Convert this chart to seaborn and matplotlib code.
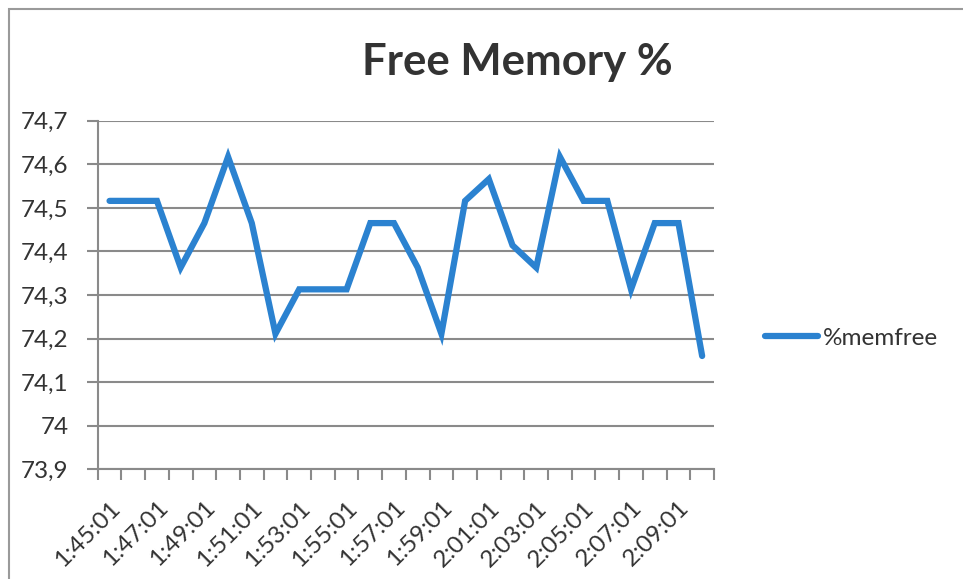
import matplotlib
matplotlib.use("Agg")
import matplotlib.pyplot as plt
import matplotlib.patches as mpatches
import numpy as np
import pandas as pd
import seaborn as sns

# one sample per minute, 1:45:01 .. 2:10:01
times = [
    "1:45:01", "1:46:01", "1:47:01", "1:48:01", "1:49:01", "1:50:01", "1:51:01",
    "1:52:01", "1:53:01", "1:54:01", "1:55:01", "1:56:01", "1:57:01", "1:58:01",
    "1:59:01", "2:00:01", "2:01:01", "2:02:01", "2:03:01", "2:04:01", "2:05:01",
    "2:06:01", "2:07:01", "2:08:01", "2:09:01", "2:10:01",
]
memfree = [
    74.516, 74.516, 74.516, 74.363, 74.465, 74.617, 74.465, 74.211, 74.313,
    74.313, 74.313, 74.465, 74.465, 74.363, 74.211, 74.516, 74.566, 74.414,
    74.363, 74.617, 74.516, 74.516, 74.313, 74.465, 74.465, 74.160,
]
y_ticks = [73.9, 74.0, 74.1, 74.2, 74.3, 74.4, 74.5, 74.6, 74.7]
series_name = "%memfree"
title = "Free Memory %"

LINE = "#2b82d0"
GRID = "#8a8a8a"
TEXT = "#333333"
FS = 17.5


def fmt_comma(v):
    s = f"{v:.1f}".replace(".", ",")
    return s[:-2] if s.endswith(",0") else s


def main():
    sns.set_theme(style="white")
    plt.rcParams["font.family"] = ["Lato", "DejaVu Sans"]

    df = pd.DataFrame({"time": times, "value": memfree})
    df["idx"] = np.arange(len(df))

    fig = plt.figure(figsize=(9.63, 5.79), dpi=100)
    ax = fig.add_axes([97.7 / 963, 1 - 469.3 / 579, (714 - 97.7) / 963, (469.3 - 120.7) / 579])

    sns.lineplot(data=df, x="idx", y="value", ax=ax, color=LINE, linewidth=4.5,
                 label=series_name, legend=False, sort=False)
    for ln in ax.lines:
        ln.set_solid_capstyle("round")
        ln.set_solid_joinstyle("miter")

    n = len(times)
    ax.set_xlim(-0.5, n - 0.5)
    ax.set_ylim(y_ticks[0], y_ticks[-1])

    # y axis: gridlines with outward ticks
    ax.set_yticks(y_ticks)
    ax.set_yticklabels([fmt_comma(v) for v in y_ticks])
    ax.yaxis.grid(True, color=GRID, linewidth=1.5)
    ax.set_axisbelow(True)
    ax.tick_params(axis="y", which="major", left=True, length=8, width=1.5, color=GRID,
                   direction="out", pad=13, labelsize=FS, labelcolor=TEXT)

    # x axis: tick marks on category boundaries, labels every other category
    ax.set_xticks(np.arange(-0.5, n, 1.0))
    ax.set_xticklabels([])
    ax.tick_params(axis="x", which="major", bottom=True, length=8, width=1.5, color=GRID,
                   direction="out")
    lab_pos = df["idx"].values[::2]
    ax.set_xticks(lab_pos, minor=True)
    ax.set_xticklabels([times[i] for i in lab_pos], minor=True, rotation=45,
                       ha="right", va="top", rotation_mode="anchor")
    ax.tick_params(axis="x", which="minor", bottom=True, length=0, pad=20,
                   labelsize=FS, labelcolor=TEXT)

    for side in ["top", "right"]:
        ax.spines[side].set_visible(False)
    for side in ["left", "bottom"]:
        ax.spines[side].set_color(GRID)
        ax.spines[side].set_linewidth(1.5)
    ax.set_xlabel("")
    ax.set_ylabel("")

    fig.text(517 / 963, 1 - 62 / 579, title, ha="center", va="center",
             fontsize=31.5, fontweight="bold", color="#333333")

    handles, labels = ax.get_legend_handles_labels()
    fig.legend(handles, labels, loc="center left", bbox_to_anchor=(765 / 963, 1 - 338 / 579),
               frameon=False, borderpad=0, borderaxespad=0, handlelength=2.2,
               handletextpad=0.2, fontsize=FS, labelcolor=TEXT)

    fig.patches.append(mpatches.Rectangle((9 / 963, -0.1), 2, 1.1 - 9 / 579, transform=fig.transFigure,
                                          fill=False, edgecolor="#9a9a9a", linewidth=1.5))

    fig.savefig("out.png", dpi=100)
    plt.close(fig)


if __name__ == "__main__":
    main()
